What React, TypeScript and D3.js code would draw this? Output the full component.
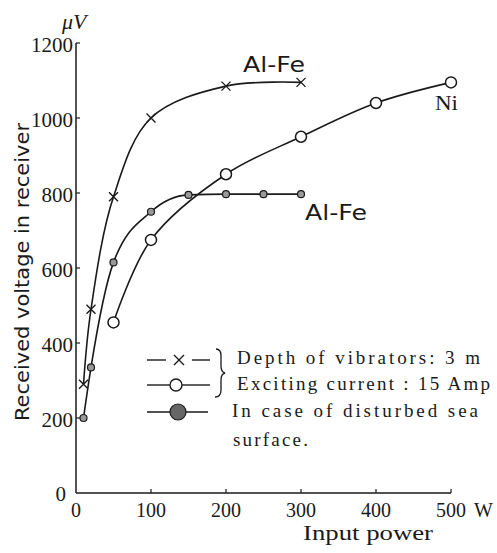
import React from "react";
import * as d3 from "d3";

const xTicks = [0, 100, 200, 300, 400, 500];
const yTicks = [200, 400, 600, 800, 1000, 1200];

// Al-Fe, depth 3 m (x markers)
const alFeX = [10, 20, 50, 100, 200, 300];
const alFeY = [290, 490, 790, 1000, 1085, 1095];

// Ni (open circles)
const niX = [50, 100, 200, 300, 400, 500];
const niY = [455, 675, 850, 950, 1040, 1095];

// Al-Fe, disturbed sea surface (small dotted circles)
const seaX = [10, 20, 50, 100, 150, 200, 250, 300];
const seaY = [200, 335, 615, 750, 795, 797, 797, 797];

const legendLabels = [
  "Depth of vibrators:  3 m",
  "Exciting current : 15 Amp",
  "In case of disturbed sea",
  "surface.",
];

export default function App() {
  const x = d3.scaleLinear().domain([0, 500]).range([76, 451]);
  const y = d3.scaleLinear().domain([0, 1200]).range([493, 43]);
  const smooth = d3
    .line<[number, number]>()
    .x((d) => x(d[0]))
    .y((d) => y(d[1]))
    .curve(d3.curveCatmullRom.alpha(0.5));
  const mono = d3
    .line<[number, number]>()
    .x((d) => x(d[0]))
    .y((d) => y(d[1]))
    .curve(d3.curveMonotoneX);

  const alFe = alFeX.map((v, i) => [v, alFeY[i]] as [number, number]);
  const ni = niX.map((v, i) => [v, niY[i]] as [number, number]);
  const sea = seaX.map((v, i) => [v, seaY[i]] as [number, number]);

  const serif = "'Liberation Serif', 'DejaVu Serif', serif";
  const sans = "'DejaVu Sans', 'Liberation Sans', sans-serif";
  const ink = "#1a1a1a";

  const cross = (cx: number, cy: number, s: number, key: string) => (
    <path
      key={key}
      d={`M${cx - s},${cy - s}L${cx + s},${cy + s}M${cx - s},${cy + s}L${cx + s},${cy - s}`}
      stroke={ink}
      strokeWidth={1.4}
    />
  );

  return (
    <svg
      width={497}
      height={553}
      style={{ position: "absolute", left: 0, top: 0, background: "#fff" }}
    >
      <rect width={497} height={553} fill="#fff" />
      {/* axes */}
      <line x1={x(0)} y1={y(0)} x2={x(0)} y2={y(1200)} stroke={ink} strokeWidth={1.5} />
      <line x1={x(0)} y1={y(0)} x2={x(500)} y2={y(0)} stroke={ink} strokeWidth={1.5} />
      {/* x ticks */}
      {xTicks.map((t) => (
        <g key={"xt" + t}>
          {t > 0 && (
            <line x1={x(t)} x2={x(t)} y1={y(0)} y2={y(0) - 4} stroke={ink} strokeWidth={1.2} />
          )}
          <text
            x={x(t)}
            y={517}
            textAnchor="middle"
            fontFamily={serif}
            fontSize={20}
            fill={ink}
          >
            {t}
          </text>
        </g>
      ))}
      <text x={474} y={517} fontFamily={serif} fontSize={20} fill={ink}>
        W
      </text>
      {/* y ticks */}
      {yTicks.map((t) => (
        <g key={"yt" + t}>
          <line x1={x(0)} x2={x(0) + 4} y1={y(t)} y2={y(t)} stroke={ink} strokeWidth={1.2} />
          <text
            x={73}
            y={y(t) + 9}
            textAnchor="end"
            fontFamily={serif}
            fontSize={21}
            fill={ink}
          >
            {t}
          </text>
        </g>
      ))}
      <text x={66} y={y(0) + 8} textAnchor="end" fontFamily={serif} fontSize={21} fill={ink}>
        0
      </text>
      <text x={62} y={29} fontFamily={serif} fontStyle="italic" fontSize={22} fill={ink}>
        μV
      </text>
      <text
        transform={`translate(29,${272}) rotate(-90)`}
        textAnchor="middle"
        fontFamily={sans}
        fontSize={19}
        textLength={298}
        lengthAdjust="spacingAndGlyphs"
        fill={ink}
      >
        Received voltage in receiver
      </text>
      <text
        x={303}
        y={540}
        fontFamily={serif}
        fontSize={21}
        textLength={130}
        lengthAdjust="spacingAndGlyphs"
        fill={ink}
      >
        Input power
      </text>

      {/* curves */}
      <path d={smooth(alFe) || ""} fill="none" stroke={ink} strokeWidth={1.6} />
      <path d={smooth(ni) || ""} fill="none" stroke={ink} strokeWidth={1.6} />
      <path d={mono(sea) || ""} fill="none" stroke={ink} strokeWidth={1.6} />
      {alFe.map((d, i) => cross(x(d[0]), y(d[1]), 4.5, "c" + i))}
      {ni.map((d, i) => (
        <circle key={"n" + i} cx={x(d[0])} cy={y(d[1])} r={5.5} fill="#fff" stroke={ink} strokeWidth={1.5} />
      ))}
      {sea.map((d, i) => (
        <circle key={"s" + i} cx={x(d[0])} cy={y(d[1])} r={3.5} fill="#999" stroke={ink} strokeWidth={1.2} />
      ))}

      {/* curve labels */}
      <text x={243} y={72} fontFamily={sans} fontSize={21} textLength={62} lengthAdjust="spacingAndGlyphs" fill={ink}>
        Al-Fe
      </text>
      <text x={305} y={220} fontFamily={sans} fontSize={21} textLength={62} lengthAdjust="spacingAndGlyphs" fill={ink}>
        Al-Fe
      </text>
      <text x={435} y={110} fontFamily={serif} fontSize={21} textLength={23} lengthAdjust="spacingAndGlyphs" fill={ink}>
        Ni
      </text>

      {/* legend */}
      <line x1={147} x2={166} y1={360} y2={360} stroke={ink} strokeWidth={1.4} />
      <line x1={192} x2={210} y1={360} y2={360} stroke={ink} strokeWidth={1.4} />
      {cross(179, 360, 5, "lc")}
      <line x1={147} x2={170} y1={385} y2={385} stroke={ink} strokeWidth={1.4} />
      <line x1={182} x2={210} y1={385} y2={385} stroke={ink} strokeWidth={1.4} />
      <circle cx={176} cy={385} r={6} fill="#fff" stroke={ink} strokeWidth={1.4} />
      <line x1={147} x2={208} y1={412} y2={412} stroke={ink} strokeWidth={1.4} />
      <circle cx={178} cy={412} r={8} fill="#666" stroke={ink} strokeWidth={1.2} />
      <path
        d="M216,349 Q221,349 221,356 L221,366 Q221,372 225,373 Q221,374 221,380 L221,390 Q221,397 215,397"
        fill="none"
        stroke={ink}
        strokeWidth={1.3}
      />
      <text x={237} y={364} fontFamily={serif} fontSize={19} textLength={243} lengthAdjust="spacing" fill={ink}>
        {legendLabels[0]}
      </text>
      <text x={237} y={390} fontFamily={serif} fontSize={19} textLength={253} lengthAdjust="spacing" fill={ink}>
        {legendLabels[1]}
      </text>
      <text x={232} y={417} fontFamily={serif} fontSize={19} textLength={246} lengthAdjust="spacing" fill={ink}>
        {legendLabels[2]}
      </text>
      <text x={233} y={446} fontFamily={serif} fontSize={19} textLength={75} lengthAdjust="spacing" fill={ink}>
        {legendLabels[3]}
      </text>
    </svg>
  );
}
